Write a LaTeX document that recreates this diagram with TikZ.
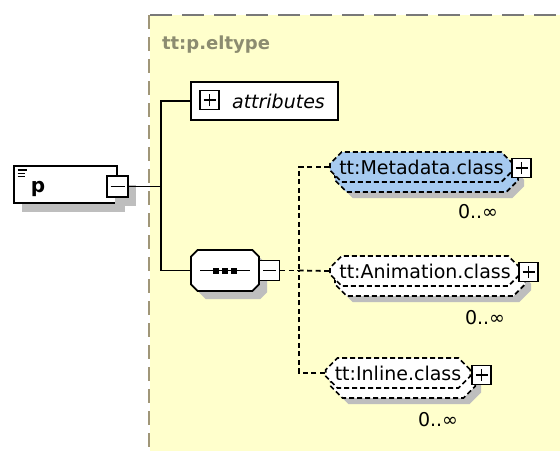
\documentclass[tikz,border=0pt]{standalone}
\usepackage{fontspec}
\setmainfont{DejaVu Sans}
\usetikzlibrary{shapes.misc,shadows}
\definecolor{bgyellow}{RGB}{255,255,204}
\definecolor{elblue}{RGB}{166,202,240}
\definecolor{shgrey}{RGB}{190,190,190}
\definecolor{lblgrey}{RGB}{140,140,112}
\definecolor{leftgrey}{RGB}{160,150,120}
\definecolor{topgrey}{RGB}{120,120,120}
\begin{document}
\begin{tikzpicture}[x=1pt,y=-1pt,line width=1.8pt,
  lbl/.style={font=\fontsize{19}{22}\selectfont},
  pmbox/.style={draw=black,fill=white,minimum size=19pt,inner sep=0pt,line width=1.9pt},
  plusbox/.style={pmbox,path picture={
     \draw[line width=1.7pt] ([xshift=3.5pt]path picture bounding box.west) -- ([xshift=-3.5pt]path picture bounding box.east);
     \draw[line width=1.7pt] ([yshift=3.5pt]path picture bounding box.south) -- ([yshift=-3.5pt]path picture bounding box.north);}},
  minusbox/.style={pmbox,path picture={
     \draw[line width=1.7pt] ([xshift=3.5pt]path picture bounding box.west) -- ([xshift=-3.5pt]path picture bounding box.east);}},
  elemdash/.style={dash pattern=on 5pt off 3pt},
  elem/.style={chamfered rectangle,chamfered rectangle xsep=8pt,draw,elemdash,fill=#1,line width=1.6pt,
     minimum height=30pt,inner xsep=1pt,lbl,
     general shadow={fill=shgrey,shadow xshift=11pt,shadow yshift=-16pt},
     general shadow={draw,elemdash,line width=1.6pt,fill=#1,shadow xshift=5pt,shadow yshift=-10pt}},
  mult/.style={lbl},
  conn/.style={line width=1.8pt},
  connd/.style={line width=1.8pt,dash pattern=on 5pt off 3.5pt},
  dropsh/.style={general shadow={fill=shgrey,shadow xshift=8pt,shadow yshift=-9pt}}
]
\useasboundingbox (0,0) rectangle (560,451);
\fill[white] (0,0) rectangle (560,451);
\fill[bgyellow] (150,15) rectangle (560,451);
\draw[topgrey,line width=1.8pt,dash pattern=on 22pt off 10pt] (150,15) -- (560,15);
\draw[leftgrey,line width=1.8pt,dash pattern=on 14pt off 8pt] (149,15) -- (149,451);
\node[lblgrey,font=\fontsize{18}{22}\selectfont\bfseries] (typelbl) at (216,45) {tt:p.eltype};

% element p
\node[draw,fill=white,minimum width=103pt,minimum height=37pt,inner sep=0pt,dropsh] (p) at (65.5,184.5) {};
\node[font=\fontsize{20}{22}\selectfont\bfseries,inner sep=0pt] (ptxt) at (38,189) {p};
\draw[line width=1.1pt] (17.5,170) -- (27,170) (17.5,173.3) -- (25,173.3) (17.5,176.6) -- (25,176.6);
\node[minusbox,dropsh,minimum size=21pt] (pminus) at (117.5,186.5) {};

% attributes
\node[draw,fill=white,minimum width=147pt,minimum height=38pt,inner sep=0pt] (attr) at (264.5,101) {};
\node[plusbox] (attrplus) at (209.5,100) {};
\node[lbl,font=\fontsize{19}{22}\selectfont\itshape,inner sep=0pt] (attrtxt) at (278.5,101) {attributes};

% sequence
\node[chamfered rectangle,chamfered rectangle xsep=12pt,draw,fill=white,minimum width=68pt,minimum height=41pt,
      general shadow={fill=shgrey,shadow xshift=8pt,shadow yshift=-8pt}] (seq) at (225,270.5) {};
\draw[line width=1.4pt] ([xshift=-25pt]seq.center) -- ([xshift=25pt]seq.center);
\foreach \dx in {-9,0,9}{\fill ([xshift=\dx pt]seq.center) +(-3pt,-3pt) rectangle +(3pt,3pt);}
\node[minusbox,minimum size=20pt] (sminus) at (269.5,270.5) {};

% child elements
\node[elem=elblue,minimum width=183pt] (meta) at (421.5,167) {tt:Metadata.class};
\node[plusbox] (metaplus) at (521.5,168) {};
\node[mult] (metam) at (478,212) {0..∞};

\node[elem=white,minimum width=190pt] (anim) at (425,271) {tt:Animation.class};
\node[plusbox] (animplus) at (528.5,272) {};
\node[mult] (animm) at (485,318) {0..∞};

\node[elem=white,minimum width=138pt] (inl) at (398,373) {tt:Inline.class};
\node[plusbox] (inlplus) at (481.5,375) {};
\node[mult] (inlm) at (438,420) {0..∞};

% connectors
\coordinate (tj) at (161,186.5);
\coordinate (dj) at (299,270.5);
\draw[conn] (pminus.east) -- (tj);
\draw[conn] (attr.west) -| (tj) |- (seq.west);
\draw[connd] (sminus.east) -- (dj);
\draw[connd] (meta.west) -| (dj);
\draw[connd] (anim.west) -- (dj);
\draw[connd] (inl.west) -| (dj);
\end{tikzpicture}
\end{document}
